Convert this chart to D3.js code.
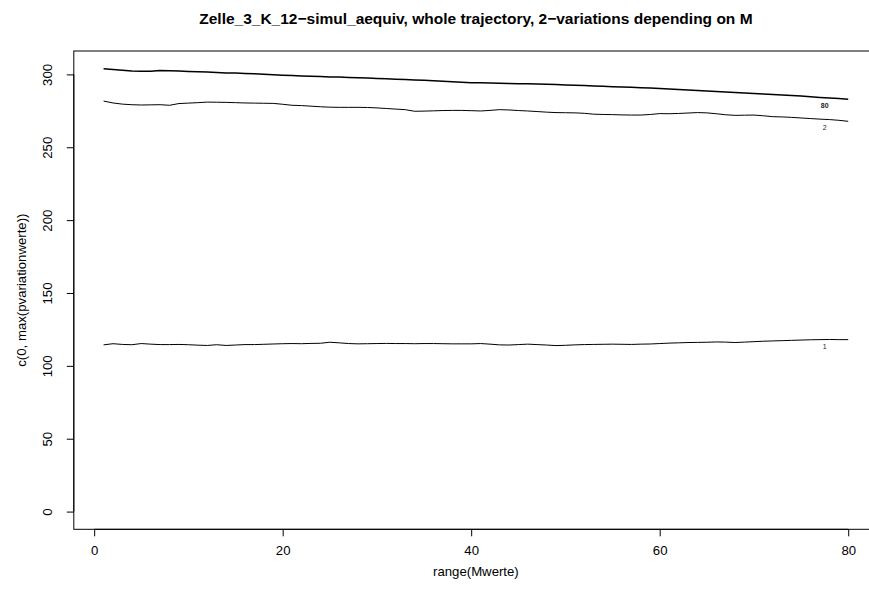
<!DOCTYPE html>
<html>
<head>
<meta charset="utf-8">
<script src="https://cdn.jsdelivr.net/npm/d3@7"></script>
<style>
  html, body { margin: 0; padding: 0; background: #fff; }
  svg { display: block; font-family: "Liberation Sans", Arial, sans-serif; }
</style>
</head>
<body>
<svg id="chart" width="869" height="597"></svg>
<script>
// M values 1..80
const mValues = d3.range(1, 81);

// variation 1 (bottom trajectory)
const variation1 = [
  114.4, 115.2, 114.7, 114.5, 115.3, 114.9, 114.6, 114.6, 114.7, 114.5,
  114.2, 114.0, 114.5, 114.0, 114.3, 114.6, 114.6, 114.8, 115.0, 115.2,
  115.3, 115.2, 115.4, 115.5, 116.2, 115.8, 115.3, 115.1, 115.2, 115.3,
  115.4, 115.3, 115.3, 115.2, 115.3, 115.3, 115.2, 115.1, 115.1, 115.1,
  115.3, 114.9, 114.4, 114.3, 114.6, 114.9, 114.6, 114.3, 113.9, 114.1,
  114.4, 114.6, 114.7, 114.8, 114.9, 114.8, 114.7, 114.9, 115.0, 115.3,
  115.6, 115.8, 116.0, 116.1, 116.2, 116.4, 116.3, 116.0, 116.3, 116.6,
  116.9, 117.1, 117.3, 117.5, 117.7, 117.9, 118.0, 118.1, 118.0, 118.0
];

// variation 2 (middle trajectory)
const variation2 = [
  281.7, 280.4, 279.6, 279.2, 279.0, 279.1, 279.2, 278.8, 280.0, 280.3,
  280.6, 281.0, 280.9, 280.8, 280.6, 280.4, 280.3, 280.2, 280.1, 279.5,
  278.8, 278.6, 278.2, 277.8, 277.5, 277.4, 277.4, 277.4, 277.3, 277.0,
  276.6, 276.2, 275.8, 274.7, 274.8, 275.0, 275.2, 275.3, 275.3, 275.1,
  274.9, 275.3, 275.8, 275.6, 275.2, 274.9, 274.5, 274.1, 273.8, 273.7,
  273.6, 273.3, 272.7, 272.5, 272.4, 272.2, 272.1, 272.1, 272.5, 273.1,
  273.0, 273.2, 273.5, 273.8, 273.6, 273.0, 272.3, 271.9, 272.0, 272.1,
  271.6, 271.0, 270.8, 270.5, 270.1, 269.7, 269.3, 269.0, 268.5, 267.8
];

// combined trajectory (top, several coinciding variations)
const variationTop = [
  303.9, 303.3, 302.8, 302.4, 302.2, 302.1, 302.7, 302.5, 302.3, 302.0,
  301.8, 301.6, 301.3, 301.0, 300.9, 300.7, 300.4, 300.1, 299.7, 299.4,
  299.2, 298.9, 298.7, 298.5, 298.3, 298.2, 297.9, 297.7, 297.5, 297.2,
  297.0, 296.7, 296.5, 296.2, 295.9, 295.6, 295.3, 295.0, 294.6, 294.3,
  294.2, 294.1, 293.9, 293.8, 293.6, 293.5, 293.4, 293.2, 293.0, 292.8,
  292.6, 292.4, 292.1, 291.9, 291.6, 291.4, 291.1, 290.9, 290.6, 290.3,
  290.0, 289.6, 289.3, 289.0, 288.6, 288.3, 287.9, 287.6, 287.2, 286.9,
  286.5, 286.2, 285.9, 285.5, 285.1, 284.6, 284.2, 283.8, 283.4, 282.9
];

const seriesLabels = ["1", "2", "80"];
const xTicks = [0, 20, 40, 60, 80];
const yTicks = [0, 50, 100, 150, 200, 250, 300];

const titleText = "Zelle_3_K_12\u2212simul_aequiv, whole trajectory, 2\u2212variations depending on M";
const xTitle = "range(Mwerte)";
const yTitle = "c(0, max(pvariationwerte))";

const svg = d3.select("#chart");
const axisFont = 13.2;

// axis ranges: data range extended by 4% on each side
const xMin = 1, xMax = 80;
const yMin = 0, yMax = d3.max(variationTop);
const xPad = (xMax - xMin) * 0.04, yPad = (yMax - yMin) * 0.04;

const plot = { left: 73.8, right: 878, top: 51, bottom: 529.3 };

const x = d3.scaleLinear().domain([xMin - xPad, xMax + xPad]).range([plot.left, plot.right]);
const y = d3.scaleLinear().domain([yMin - yPad, yMax + yPad]).range([plot.bottom, plot.top]);

// plot box
svg.append("rect")
  .attr("x", plot.left).attr("y", plot.top)
  .attr("width", plot.right - plot.left).attr("height", plot.bottom - plot.top)
  .attr("fill", "none").attr("stroke", "#000").attr("stroke-width", 1);

// x axis
const xAxis = svg.append("g")
  .attr("transform", `translate(0,${plot.bottom})`)
  .call(d3.axisBottom(x).tickValues(xTicks).tickSize(7).tickPadding(9).tickFormat(d3.format("d")));
xAxis.select(".domain").attr("d", `M${x(xTicks[0])},0H${x(xTicks[xTicks.length - 1])}`);
xAxis.selectAll("text").attr("font-size", axisFont).attr("font-family", "Liberation Sans, Arial, sans-serif").attr("fill", "#000");

// y axis (labels parallel to the axis)
const yAxis = svg.append("g")
  .attr("transform", `translate(${plot.left},0)`)
  .call(d3.axisLeft(y).tickValues(yTicks).tickSize(7).tickFormat(d3.format("d")));
yAxis.select(".domain").attr("d", `M0,${y(yTicks[0])}V${y(yTicks[yTicks.length - 1])}`);
yAxis.selectAll("text")
  .attr("font-size", axisFont).attr("font-family", "Liberation Sans, Arial, sans-serif").attr("fill", "#000")
  .attr("x", null).attr("dy", null)
  .attr("text-anchor", "middle")
  .attr("transform", "translate(-26,0) rotate(-90)")
  .attr("dominant-baseline", "central");

// trajectories
const line = d3.line().x((d, i) => x(mValues[i])).y(d => y(d));
const series = [
  { values: variation1, label: seriesLabels[0], width: 1, weight: "normal" },
  { values: variation2, label: seriesLabels[1], width: 1, weight: "normal" },
  { values: variationTop, label: seriesLabels[2], width: 1.5, weight: "bold" }
];

series.forEach(s => {
  svg.append("path")
    .datum(s.values)
    .attr("d", line)
    .attr("fill", "none")
    .attr("stroke", "#000")
    .attr("stroke-width", s.width)
    .attr("stroke-linejoin", "round");
  svg.append("text")
    .attr("x", x(77.5))
    .attr("y", y(s.values[77]) + 7.5)
    .attr("text-anchor", "middle")
    .attr("dominant-baseline", "central")
    .attr("font-size", 7)
    .attr("font-weight", s.weight)
    .attr("fill", "#222")
    .text(s.label);
});

// titles
const cx = (plot.left + plot.right) / 2;
svg.append("text")
  .attr("x", cx).attr("y", 24)
  .attr("text-anchor", "middle")
  .attr("font-size", 15.5).attr("font-weight", "bold")
  .text(titleText);

svg.append("text")
  .attr("x", cx).attr("y", 576)
  .attr("text-anchor", "middle")
  .attr("font-size", axisFont)
  .text(xTitle);

svg.append("text")
  .attr("transform", `translate(26,${(plot.top + plot.bottom) / 2}) rotate(-90)`)
  .attr("text-anchor", "middle")
  .attr("font-size", axisFont)
  .text(yTitle);
</script>
</body>
</html>
